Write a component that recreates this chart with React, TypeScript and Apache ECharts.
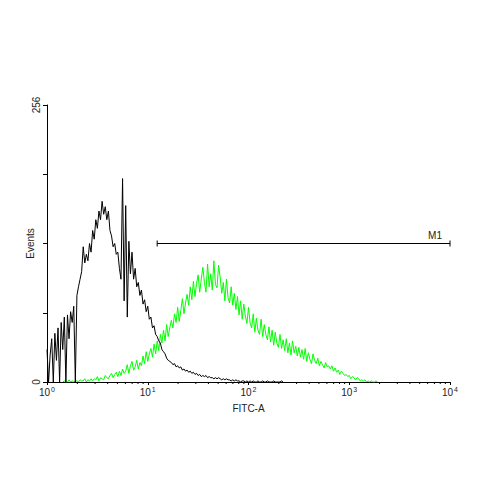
import React, { useEffect, useRef } from "react";
import * as echarts from "echarts";

// Histogram bins: 256 channels per decade, values read every 4 channels
const CHANNELS_PER_DECADE = 256;
const CHANNEL_STEP = 4;

// Isotype control (black)
const controlStartChannel = 0;
const controlCounts = [
  30, 0, 25, 40, 0, 45, 20, 50, 0, 55,
  30, 60, 0, 62, 40, 65, 55, 70, 0, 80,
  88, 95, 102, 125, 110, 118, 112, 128, 120, 140,
  132, 150, 142, 158, 150, 167, 155, 162, 150, 158,
  140, 135, 125, 128, 118, 120, 105, 95, 188, 75,
  163, 60, 130, 100, 120, 95, 105, 88, 92, 80,
  85, 72, 76, 65, 70, 58, 60, 50, 52, 44,
  42, 38, 36, 30, 28, 26, 22, 20, 19, 18,
  16, 17, 14, 15, 13, 14, 11, 12, 10, 11,
  9, 10, 8, 9, 7, 8, 6, 7, 5, 6,
  5, 6, 4, 5, 4, 4, 3, 4, 3, 4,
  3, 2, 3, 2, 3, 2, 2, 1, 2, 1,
  2, 1, 1, 0, 1, 1, 0, 1, 0, 1,
  0, 1, 0, 0, 1, 0, 0, 1, 0, 0,
  1, 0, 0, 0, 1, 0, 0, 0, 0, 1,
  0,
];

// Stained sample (green)
const stainedStartChannel = 40;
const stainedCounts = [
  0, 1, 0, 0, 2, 0, 1, 0, 1, 1,
  0, 2, 1, 1, 3, 0, 2, 1, 3, 1,
  3, 2, 5, 1, 4, 3, 2, 6, 4, 3,
  6, 8, 4, 7, 9, 5, 10, 6, 12, 8,
  10, 16, 8, 15, 19, 11, 14, 20, 12, 18,
  15, 24, 17, 28, 19, 26, 31, 23, 35, 26,
  38, 29, 44, 36, 48, 38, 53, 42, 50, 57,
  50, 63, 55, 69, 56, 66, 77, 63, 73, 81,
  71, 88, 76, 93, 79, 91, 99, 83, 95, 106,
  92, 83, 109, 88, 100, 85, 112, 90, 87, 108,
  97, 82, 92, 75, 95, 78, 73, 88, 71, 82,
  67, 79, 62, 75, 58, 72, 61, 54, 69, 55,
  50, 63, 46, 59, 48, 44, 58, 42, 53, 44,
  39, 51, 37, 48, 34, 46, 36, 32, 44, 31,
  39, 29, 40, 27, 36, 25, 38, 27, 33, 24,
  32, 23, 30, 21, 31, 19, 27, 21, 17, 26,
  20, 17, 22, 15, 19, 16, 13, 18, 14, 15,
  12, 15, 10, 13, 9, 11, 7, 10, 8, 6,
  7, 5, 6, 3, 5, 4, 2, 4, 3, 1,
  2, 1, 2, 0, 1, 0, 1, 0, 0, 1,
  0,
];

const xAxisRange = [1, 10000];
const yAxisRange = [0, 256];
const yTickInterval = 64;
const yLabeledTicks = [0, 256];
const minorTickValues = [
  2, 3, 4, 5, 6, 7, 8, 9,
  20, 30, 40, 50, 60, 70, 80, 90,
  200, 300, 400, 500, 600, 700, 800, 900,
  2000, 3000, 4000, 5000, 6000, 7000, 8000, 9000,
];
const gateRange = [12.4, 10000];
const gateLevel = 128;
const gateLabel = "M1";
const xAxisTitle = "FITC-A";
const yAxisTitle = "Events";

const FONT = "'Liberation Sans', Arial, sans-serif";
const TEXT_COLOR = "#222";

function toPoints(start: number, counts: number[]) {
  return counts.map((c, i) => [
    Math.pow(10, (start + i * CHANNEL_STEP) / CHANNELS_PER_DECADE),
    c,
  ]);
}

export default function App() {
  const ref = useRef<HTMLDivElement>(null);
  useEffect(() => {
    if (!ref.current) return;
    const chart = echarts.init(ref.current, null, { renderer: "svg" });
    const option: any = {
      animation: false,
      backgroundColor: "#fff",
      grid: { left: 47, right: 50, top: 105, bottom: 118 },
      xAxis: {
        type: "log",
        logBase: 10,
        min: xAxisRange[0],
        max: xAxisRange[1],
        name: xAxisTitle,
        nameLocation: "middle",
        nameGap: 21,
        nameMoveOverlap: false,
        nameTextStyle: { fontFamily: FONT, fontSize: 10, color: TEXT_COLOR },
        axisLine: { show: true, lineStyle: { color: "#000", width: 1 } },
        axisTick: { show: true, inside: false, length: 3, lineStyle: { color: "#000" } },
        splitLine: { show: false },
        minorTick: { show: false },
        axisLabel: {
          margin: 4,
          fontFamily: FONT,
          fontSize: 10,
          color: TEXT_COLOR,
          formatter: (v: number) => `{b|10}{s|${Math.round(Math.log10(v))}}`,
          rich: {
            b: { fontFamily: FONT, fontSize: 10, color: TEXT_COLOR },
            s: { fontFamily: FONT, fontSize: 7, color: TEXT_COLOR, verticalAlign: "top", padding: [0, 0, 5, 1] },
          },
        },
      },
      yAxis: {
        type: "value",
        min: yAxisRange[0],
        max: yAxisRange[1],
        interval: yTickInterval,
        name: yAxisTitle,
        nameLocation: "middle",
        nameGap: 12,
        nameMoveOverlap: false,
        nameRotate: 90,
        nameTextStyle: { fontFamily: FONT, fontSize: 10, color: TEXT_COLOR },
        axisLine: { show: true, lineStyle: { color: "#000", width: 1 } },
        axisTick: { show: true, inside: false, length: 4, lineStyle: { color: "#000" } },
        splitLine: { show: false },
        axisLabel: {
          rotate: 90,
          margin: 6,
          fontFamily: FONT,
          fontSize: 10,
          color: TEXT_COLOR,
          formatter: (v: number) => (yLabeledTicks.includes(v) ? String(v) : ""),
        },
      },
      series: [
        {
          type: "line",
          data: toPoints(stainedStartChannel, stainedCounts),
          showSymbol: false,
          symbol: "none",
          lineStyle: { color: "#00ff00", width: 1 },
          itemStyle: { color: "#00ff00" },
          z: 2,
        },
        {
          type: "line",
          data: toPoints(controlStartChannel, controlCounts),
          showSymbol: false,
          symbol: "none",
          lineStyle: { color: "#000", width: 1 },
          itemStyle: { color: "#000" },
          z: 3,
        },
        {
          type: "custom",
          clip: false,
          silent: true,
          data: minorTickValues.map((v) => [v, 0]),
          encode: { x: 0, y: 1 },
          renderItem: (_p: any, api: any) => {
            const pt = api.coord([api.value(0), 0]);
            return {
              type: "line",
              shape: { x1: pt[0], y1: pt[1], x2: pt[0], y2: pt[1] + 2 },
              style: { stroke: "#000", lineWidth: 1 },
            };
          },
          z: 4,
        },
        {
          type: "custom",
          clip: false,
          silent: true,
          data: [[gateRange[0], gateLevel, gateRange[1]]],
          encode: { x: [0, 2], y: 1 },
          renderItem: (_p: any, api: any) => {
            const a = api.coord([api.value(0), api.value(1)]);
            const b = api.coord([api.value(2), api.value(1)]);
            const st = { stroke: "#000", lineWidth: 1 };
            return {
              type: "group",
              children: [
                { type: "line", shape: { x1: a[0], y1: a[1], x2: b[0], y2: b[1] }, style: st },
                { type: "line", shape: { x1: a[0], y1: a[1] - 3, x2: a[0], y2: a[1] + 3 }, style: st },
                { type: "line", shape: { x1: b[0], y1: b[1] - 3, x2: b[0], y2: b[1] + 3 }, style: st },
                {
                  type: "text",
                  x: b[0] - 8,
                  y: b[1] - 3,
                  style: {
                    text: gateLabel,
                    align: "right",
                    verticalAlign: "bottom",
                    fontFamily: FONT,
                    fontSize: 10,
                    fill: TEXT_COLOR,
                  },
                },
              ],
            };
          },
          z: 5,
        },
      ],
    };
    chart.setOption(option);
    return () => chart.dispose();
  }, []);
  return (
    <div
      ref={ref}
      style={{ position: "absolute", left: 0, top: 0, width: 500, height: 500, background: "#fff" }}
    />
  );
}
